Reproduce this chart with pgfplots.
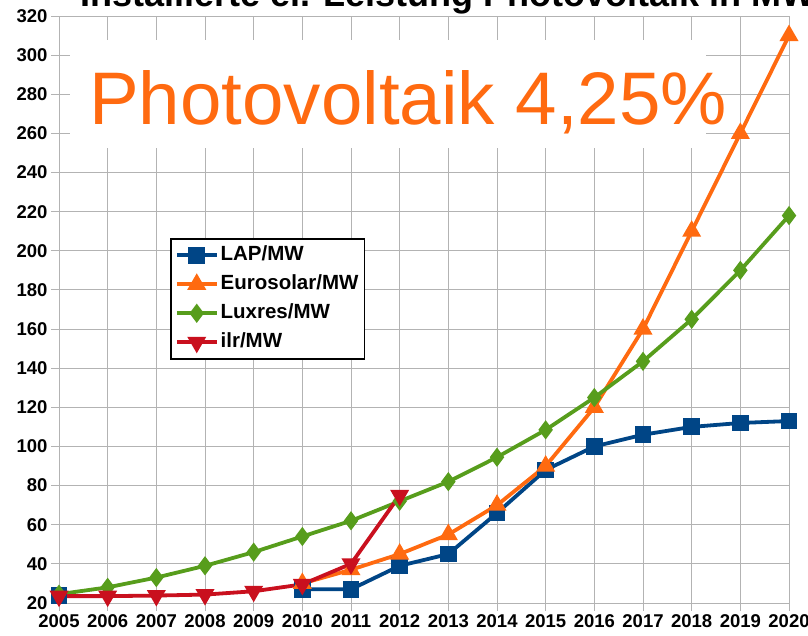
\documentclass[border=0pt]{standalone}
\usepackage{pgfplots}
\pgfplotsset{compat=1.18}
\usepackage{fontspec}
\setmainfont{Liberation Sans}
\definecolor{lapblue}{HTML}{004586}
\definecolor{euroorange}{HTML}{FF6A10}
\definecolor{luxgreen}{HTML}{579D1C}
\definecolor{ilrred}{HTML}{C9101E}
\definecolor{gridgray}{HTML}{B3B3B3}
\begin{document}
\begin{tikzpicture}[x=1pt,y=1pt]
\begin{axis}[
  at={(59pt,33pt)}, anchor=south west,
  width=730pt, height=587pt, scale only axis,
  xmin=2005, xmax=2020, ymin=20, ymax=320,
  xtick={2005,2006,...,2020}, ytick={20,40,...,320},
  grid=major, major grid style={gridgray, line width=0.9pt},
  axis line style={gridgray, line width=0.9pt},
  tick style={gridgray, line width=0.9pt},
  tick align=outside, major tick length=8pt, tick pos=left,
  tick label style={font=\bfseries\fontsize{18.5}{18.5}\selectfont, text=black},
  /pgf/number format/assume math mode=true,
  /pgf/number format/1000 sep={},
  unbounded coords=jump,
  legend style={at={(0.152,0.622)}, anchor=north west, draw=black, line width=1.8pt,
    font=\bfseries\fontsize{20.5}{20.5}\selectfont, inner xsep=4pt, inner ysep=2pt,
    nodes={inner ysep=5.25pt, text height=14.5pt, text depth=4pt}},
  legend cell align=left,
  legend image code/.code={\draw[mark repeat=2,mark phase=2] plot coordinates {(0pt,0pt) (20pt,0pt) (40pt,0pt)};},
]
\addplot[lapblue, line width=3.8pt, mark=square*, mark size=6.5pt, mark options={solid}]
coordinates {(2005,24) (2006,nan) (2010,27) (2011,27) (2012,39) (2013,45) (2014,66) (2015,88) (2016,100) (2017,106) (2018,110) (2019,112) (2020,113)};
\addlegendentry{LAP/MW}
\addplot[euroorange, line width=3.8pt, mark=triangle*, mark size=7.2pt, mark options={solid}]
coordinates {(2010,30) (2011,37) (2012,45) (2013,55) (2014,70) (2015,90) (2016,120) (2017,160) (2018,210) (2019,260) (2020,310)};
\addlegendentry{Eurosolar/MW}
\addplot[luxgreen, line width=3.8pt, mark=diamond*, mark size=6.5pt, mark options={solid}]
coordinates {(2005,24.5) (2006,28) (2007,33) (2008,39) (2009,46) (2010,54) (2011,62) (2012,72) (2013,82) (2014,94.5) (2015,108.5) (2016,125) (2017,143.5) (2018,165) (2019,190) (2020,218)};
\addlegendentry{Luxres/MW}
\addplot[ilrred, line width=3.8pt, mark=triangle*, mark size=7.2pt, mark options={solid, rotate=180}]
coordinates {(2005,23.5) (2006,23.5) (2007,23.8) (2008,24.3) (2009,26) (2010,29.5) (2011,40) (2012,75)};
\addlegendentry{ilr/MW}
\end{axis}
\fill[white] (70,488) rectangle (706,596);
\node[anchor=base west, inner sep=0pt, text=euroorange, font=\fontsize{74.5}{74.5}\selectfont] at (89,511) {Photovoltaik 4,25\%};
\node[anchor=base west, inner sep=0pt, font=\bfseries\fontsize{36}{36}\selectfont] at (80,629.5) {Installierte el. Leistung Photovoltaik in MW};
\pgfresetboundingbox
\useasboundingbox (0,0) rectangle (808,636);
\end{tikzpicture}
\end{document}
